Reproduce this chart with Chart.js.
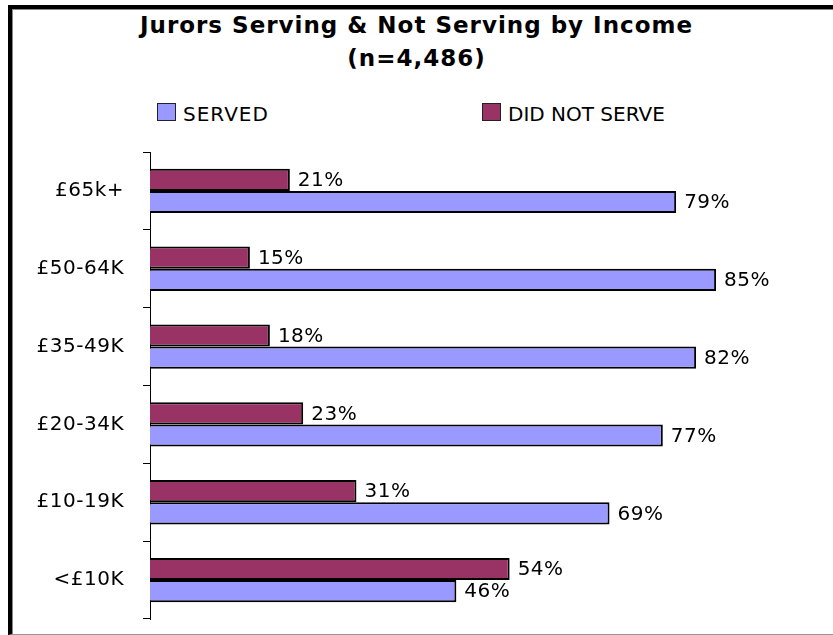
<!DOCTYPE html>
<html>
<head>
<meta charset="utf-8">
<title>Jurors Serving & Not Serving by Income</title>
<script src="https://cdn.jsdelivr.net/npm/chart.js@4"></script>
<style>
    body { margin: 0; width: 833px; height: 635px; overflow: hidden; background: #fff; font-family: "DejaVu Sans", Verdana, sans-serif; }
    .frame { position: absolute; left: 8px; top: 5px; width: 900px; height: 625px; border-top: 4px solid #000; border-left: 4px solid #000; border-bottom: 1px solid #999; }
    .frame-inner { position: absolute; left: 0; top: 0; right: 0; bottom: 0; border-top: 1px solid #888; border-left: 1px solid #888; }
    .title { position: absolute; left: 0; top: 9px; width: 833px; text-align: center; font-weight: bold; font-size: 23px; line-height: 33px; letter-spacing: 1px; color: #000; }
    .legend-item { position: absolute; top: 103px; font-size: 20px; line-height: 20px; color: #000; white-space: nowrap; }
    .legend-box { position: absolute; top: 0; width: 17px; height: 16px; border: 1px solid #222; }
    .legend-text { position: absolute; top: 1px; }
    #chartJurors { position: absolute; left: 0; top: 0; }
</style>
</head>
<body>
<div class="frame"><div class="frame-inner"></div></div>
<div class="title">Jurors Serving &amp; Not Serving by Income<br>(n=4,486)</div>
<div class="legend-item" style="left:157px">
    <span class="legend-box" style="left:0;background:#9999FF"></span>
    <span class="legend-text" style="left:26px;letter-spacing:1px">SERVED</span>
</div>
<div class="legend-item" style="left:482px">
    <span class="legend-box" style="left:0;background:#993366"></span>
    <span class="legend-text" style="left:26px">DID NOT SERVE</span>
</div>
<canvas id="chartJurors" width="833" height="635"></canvas>
<script>
// income bands, top to bottom
const incomeBands = ['£65k+', '£50-64K', '£35-49K', '£20-34K', '£10-19K', '<£10K'];
const servedPct = [79, 85, 82, 77, 69, 46];
const notServedPct = [21, 15, 18, 23, 31, 54];

const labelFont = { family: '"DejaVu Sans", Verdana, sans-serif', size: 20 };

// value labels just past the end of each bar
const barLabels = {
    id: 'barLabels',
    afterDatasetsDraw(chart) {
        const ctx = chart.ctx;
        ctx.save();
        ctx.font = '20px "DejaVu Sans", Verdana, sans-serif';
        ctx.letterSpacing = '0.5px';
        ctx.fillStyle = '#000';
        ctx.textAlign = 'left';
        ctx.textBaseline = 'middle';
        chart.data.datasets.forEach((ds, i) => {
            chart.getDatasetMeta(i).data.forEach((bar, j) => {
                ctx.fillText(ds.data[j] + '%', bar.x + 8, bar.y + 1);
            });
        });
        ctx.restore();
    }
};

const spacing = {
    id: 'spacing',
    beforeDraw(chart) { chart.ctx.letterSpacing = '0.5px'; }
};

new Chart(document.getElementById('chartJurors'), {
    type: 'bar',
    data: {
        labels: incomeBands,
        datasets: [
            { label: 'DID NOT SERVE', data: notServedPct, backgroundColor: '#993366', borderColor: '#000', borderWidth: 2 },
            { label: 'SERVED', data: servedPct, backgroundColor: '#9999FF', borderColor: '#000', borderWidth: 2 }
        ]
    },
    options: {
        indexAxis: 'y',
        responsive: false,
        animation: false,
        layout: { padding: { left: 0, top: 152, right: 17, bottom: 16 } },
        datasets: { bar: { barPercentage: 1, categoryPercentage: 0.57 } },
        plugins: {
            legend: { display: false },
            title: { display: false },
            tooltip: { enabled: false }
        },
        scales: {
            x: { display: false, min: 0, max: 100 },
            y: {
                grid: { drawOnChartArea: false, tickLength: 7, color: '#000', offset: true },
                border: { color: '#000', width: 1 },
                ticks: { color: '#000', font: labelFont, padding: 19 },
                afterFit: (scale) => {
                    scale.width = 150;
                    scale.paddingTop = 0;
                    scale.paddingBottom = 0;
                }
            }
        }
    },
    plugins: [spacing, barLabels]
});
</script>
</body>
</html>
